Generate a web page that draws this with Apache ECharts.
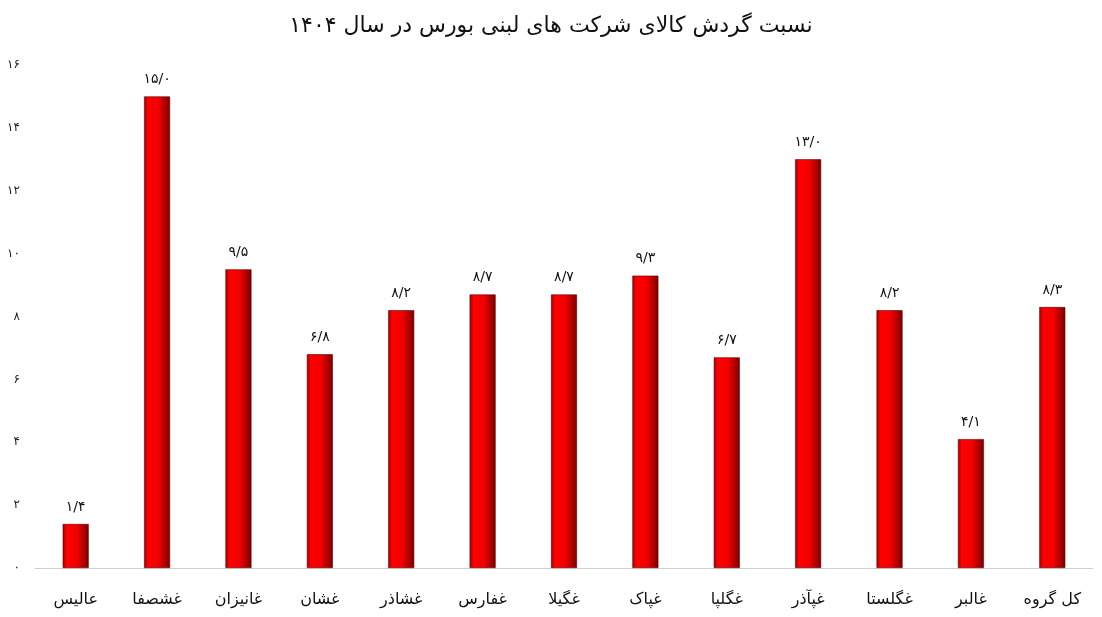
<!DOCTYPE html>
<html><head><meta charset="utf-8">
<script src="https://cdn.jsdelivr.net/npm/echarts@6/dist/echarts.min.js"></script>
<style>html,body{margin:0;padding:0;background:#fff}#c{width:1102px;height:617px}</style>
</head><body><div id="c"></div>
<script>
var categories = ['عالیس','غشصفا','غانیزان','غشان','غشاذر','غفارس','غگیلا','غپاک','غگلپا','غپآذر','غگلستا','غالبر','کل گروه'];
var values = [1.4, 15.0, 9.5, 6.8, 8.2, 8.7, 8.7, 9.3, 6.7, 13.0, 8.2, 4.1, 8.3];
var titleText = 'نسبت گردش کالای شرکت های لبنی بورس در سال ۱۴۰۴';

function fa(s){ return String(s).replace(/[0-9]/g, function(d){ return '۰۱۲۳۴۵۶۷۸۹'[+d]; }).replace('.', '/'); }

var font = 'DejaVu Sans';
var chart = echarts.init(document.getElementById('c'));
chart.setOption({
  animation: false,
  title: { text: titleText, left: 'center', top: 10, textStyle: { fontFamily: font, fontSize: 22, fontWeight: 'normal', color: '#111' } },
  grid: { left: 35, right: 9, top: 65, bottom: 49, containLabel: false },
  xAxis: {
    type: 'category', data: categories,
    axisLine: { lineStyle: { color: '#d0d0d0' } },
    axisTick: { show: false },
    axisLabel: { fontFamily: font, fontSize: 16, color: '#111', margin: 24 }
  },
  yAxis: {
    type: 'value', min: 0, max: 16, interval: 2,
    axisLine: { show: false }, axisTick: { show: false }, splitLine: { show: false },
    axisLabel: { fontFamily: font, fontSize: 12, color: '#222', margin: 15, formatter: function(v){ return fa(v); } }
  },
  series: [{
    type: 'bar', data: values, barWidth: 26,
    itemStyle: {
      borderColor: '#5a0000', borderWidth: 0.6,
      color: { type: 'linear', x: 0, y: 0, x2: 1, y2: 0, colorStops: [
        { offset: 0, color: '#a00000' }, { offset: 0.15, color: '#ff0000' },
        { offset: 0.55, color: '#f20000' }, { offset: 1, color: '#7a0000' } ] }
    },
    label: { show: true, position: 'top', distance: 10, fontFamily: font, fontSize: 14, color: '#111',
      formatter: function(p){ return fa(p.value.toFixed(1)); } }
  }]
});
</script></body></html>
